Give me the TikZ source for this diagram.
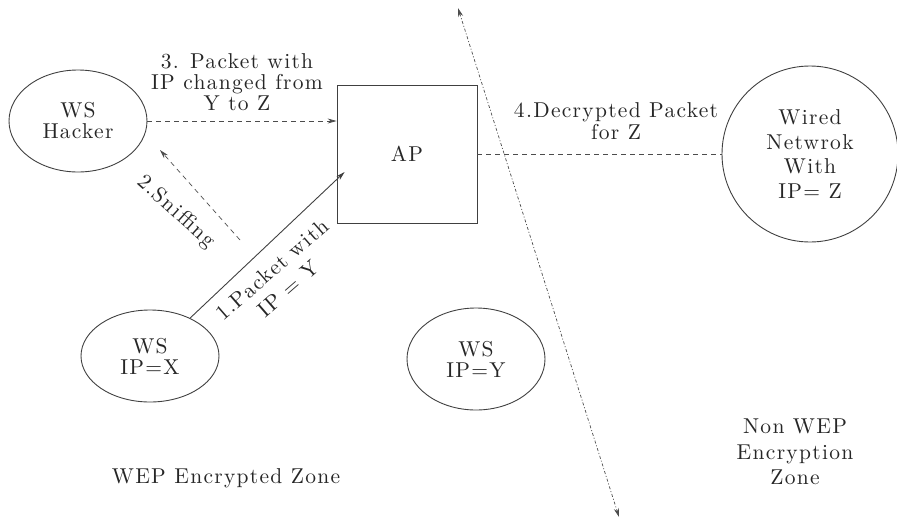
\documentclass[tikz,border=0pt]{standalone}
\usepackage{fontspec}
\setmainfont{lmroman10-regular}[Extension=.otf, LetterSpace=6]
\usetikzlibrary{shapes.geometric, arrows.meta}

\begin{document}
\begin{tikzpicture}[x=1pt, y=-1pt, >={Stealth[length=9pt,width=5pt]},
    every node/.style={font=\fontsize{21.5}{21}\selectfont, align=center, text=black!85},
    station/.style={ellipse, draw=black!75, line width=0.9pt, inner sep=0pt, minimum width=138pt, minimum height=100pt},
    dashline/.style={draw=black!70, line width=0.7pt, dash pattern=on 5pt off 4pt},
    zoneline/.style={draw=black!70, line width=0.7pt, dash pattern=on 3pt off 2pt on 1pt off 2pt}]
  \useasboundingbox (0,0) rectangle (897,520);
  % stations and access point
  \node[station, minimum height=102pt] (hacker) at (78,121) {WS\\Hacker};
  \node[station, minimum height=92pt] (wsx) at (150,356) {WS\\IP=X};
  \node[station, minimum height=102pt] (wsy) at (476,359) {WS\\IP=Y};
  \node[draw=black!75, line width=0.8pt, minimum width=140pt, minimum height=138pt] (ap) at (407,154) {AP};
  \node[circle, draw=black!75, line width=0.9pt, inner sep=0pt, minimum size=176pt,
        font=\fontsize{21.5}{24.5}\selectfont] (wired) at (810,154) {Wired\\Netwrok\\With\\IP= Z};

  % zone border
  \coordinate (zonetop) at (458,8);
  \coordinate (zonebot) at (619,517);
  \draw[zoneline, <->] (zonetop) -- (zonebot);

  % packet flow
  \draw[draw=black!75, line width=0.9pt, ->] (wsx) -- ([xshift=8pt, yshift=-18pt]ap.west);
  \coordinate (sniffend) at (240,240);
  \coordinate (sniffhead) at (160,150);
  \draw[dashline, ->] (sniffend) -- (sniffhead);
  \draw[dashline, ->] (hacker.east) -- (hacker.east -| ap.west);
  \draw[dashline] (ap.east) -- (ap.east -| wired.west);

  % labels
  \node[rotate=41, font=\fontsize{21.5}{25}\selectfont] (lblone) at (280,279) {1.Packet with\\IP = Y};
  \node[rotate=-42] (lbltwo) at (176,212) {2.Sniffing};
  \node (lblthree) at (237,82) {3. Packet with\\IP changed from\\Y to Z};
  \node[font=\fontsize{21.5}{22}\selectfont] (lblfour) at (616,121) {4.Decrypted Packet\\for Z};
  \node (wepzone) at (226,478) {WEP Encrypted Zone};
  \node[font=\fontsize{21.5}{25.5}\selectfont] (nonwep) at (795,452) {Non WEP\\Encryption\\Zone};
\end{tikzpicture}
\end{document}
